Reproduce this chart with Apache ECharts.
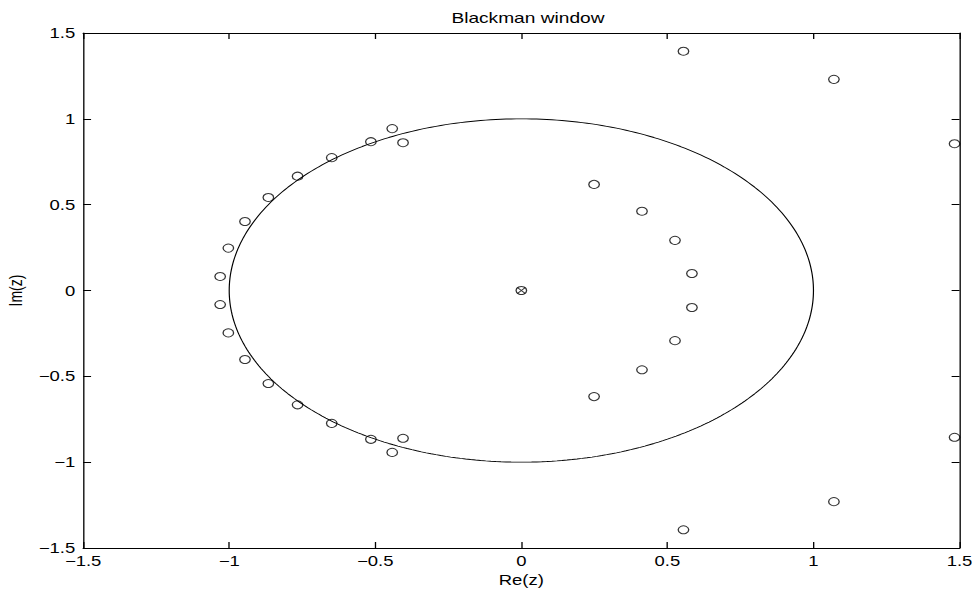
<!DOCTYPE html>
<html>
<head>
<meta charset="utf-8">
<script src="https://cdn.jsdelivr.net/npm/echarts@6/dist/echarts.min.js"></script>
<style>
  html, body { margin: 0; padding: 0; background: #fff; overflow: hidden; }
  #wrap { width: 978px; height: 593px; overflow: hidden; }
  /* chart is laid out narrower and stretched horizontally to the page width */
  #chart { width: 741px; height: 593px; transform: scaleX(1.31984); transform-origin: 0 0; }
</style>
</head>
<body>
<div id="wrap"><div id="chart"></div></div>
<script>
// Zeros of the Blackman window transfer function (real and imaginary parts)
const zeroRe = [
  -0.442, -0.405, -0.515, -0.649, -0.766, -0.866, -0.946, -1.003, -1.031,
   0.249,  0.413,  0.526,  0.584,  0.555,  1.070,  1.483,
  -0.442, -0.405, -0.515, -0.649, -0.766, -0.866, -0.946, -1.003, -1.031,
   0.249,  0.413,  0.526,  0.584,  0.555,  1.070,  1.483,
   0
];
const zeroIm = [
   0.943,  0.861,  0.867,  0.774,  0.666,  0.542,  0.402,  0.247,  0.082,
   0.618,  0.462,  0.292,  0.099,  1.394,  1.230,  0.855,
  -0.943, -0.861, -0.867, -0.774, -0.666, -0.542, -0.402, -0.247, -0.082,
  -0.618, -0.462, -0.292, -0.099, -1.394, -1.230, -0.855,
   0
];
// Poles (all at the origin)
const poleRe = [0];
const poleIm = [0];

// Axis ticks, shared by both axes
const tickValues = [-1.5, -1, -0.5, 0, 0.5, 1, 1.5];

const titleText = 'Blackman window';
const xName = 'Re(z)';
const yName = 'Im(z)';

// Unit circle reference curve
const unitCircle = [];
for (let k = 0; k <= 360; k++) {
  const t = k * Math.PI / 180;
  unitCircle.push([Math.cos(t), Math.sin(t)]);
}

const zeros = zeroRe.map((r, i) => [r, zeroIm[i]]);
const poles = poleRe.map((r, i) => [r, poleIm[i]]);

const FONT = "'Liberation Sans', Arial, Helvetica, sans-serif";
const minus = v => String(v).replace('-', '\u2212');
const tMin = tickValues[0];
const tMax = tickValues[tickValues.length - 1];
const tStep = tickValues[1] - tickValues[0];

function axis(pos, showLabels, extra) {
  return Object.assign({
    type: 'value',
    position: pos,
    min: tMin,
    max: tMax,
    interval: tStep,
    axisLine: { show: true, onZero: false, lineStyle: { color: '#000', width: 1 } },
    axisTick: { show: true, inside: true, length: 6, lineStyle: { color: '#000', width: 1 } },
    splitLine: { show: false },
    axisLabel: {
      show: showLabels,
      formatter: minus,
      color: '#000',
      fontSize: 14,
      fontFamily: FONT,
      margin: 6
    }
  }, extra || {});
}

const chart = echarts.init(document.getElementById('chart'), null, { renderer: 'svg' });
chart.setOption({
  animation: false,
  backgroundColor: '#fff',
  title: {
    text: titleText,
    left: 337,
    top: 6,
    textStyle: { color: '#000', fontSize: 14.5, fontWeight: 'normal', fontFamily: FONT }
  },
  grid: {
    left: 63, right: 14, top: 33, bottom: 45,
    containLabel: false,
    outerBoundsMode: 'none'
  },
  xAxis: [
    axis('bottom', true, {
      name: xName,
      nameLocation: 'middle',
      nameGap: 22,
      nameTextStyle: { color: '#000', fontSize: 14, fontFamily: FONT }
    }),
    axis('top', false)
  ],
  yAxis: [
    axis('left', true, {
      name: yName,
      nameLocation: 'middle',
      nameGap: 40,
      nameTextStyle: { color: '#000', fontSize: 14, fontFamily: FONT }
    }),
    axis('right', false)
  ],
  series: [
    {
      type: 'line',
      data: unitCircle,
      showSymbol: false,
      symbol: 'none',
      lineStyle: { color: '#000', width: 0.9 },
      silent: true
    },
    {
      type: 'scatter',
      data: zeros,
      symbol: 'circle',
      symbolSize: 8,
      itemStyle: { color: 'rgba(0,0,0,0)', borderColor: '#000', borderWidth: 1 }
    },
    {
      type: 'scatter',
      data: poles,
      symbol: 'path://M0,0L10,10M10,0L0,10',
      symbolSize: 6,
      itemStyle: { color: 'none', borderColor: '#000', borderWidth: 1 }
    }
  ]
});
</script>
</body>
</html>
